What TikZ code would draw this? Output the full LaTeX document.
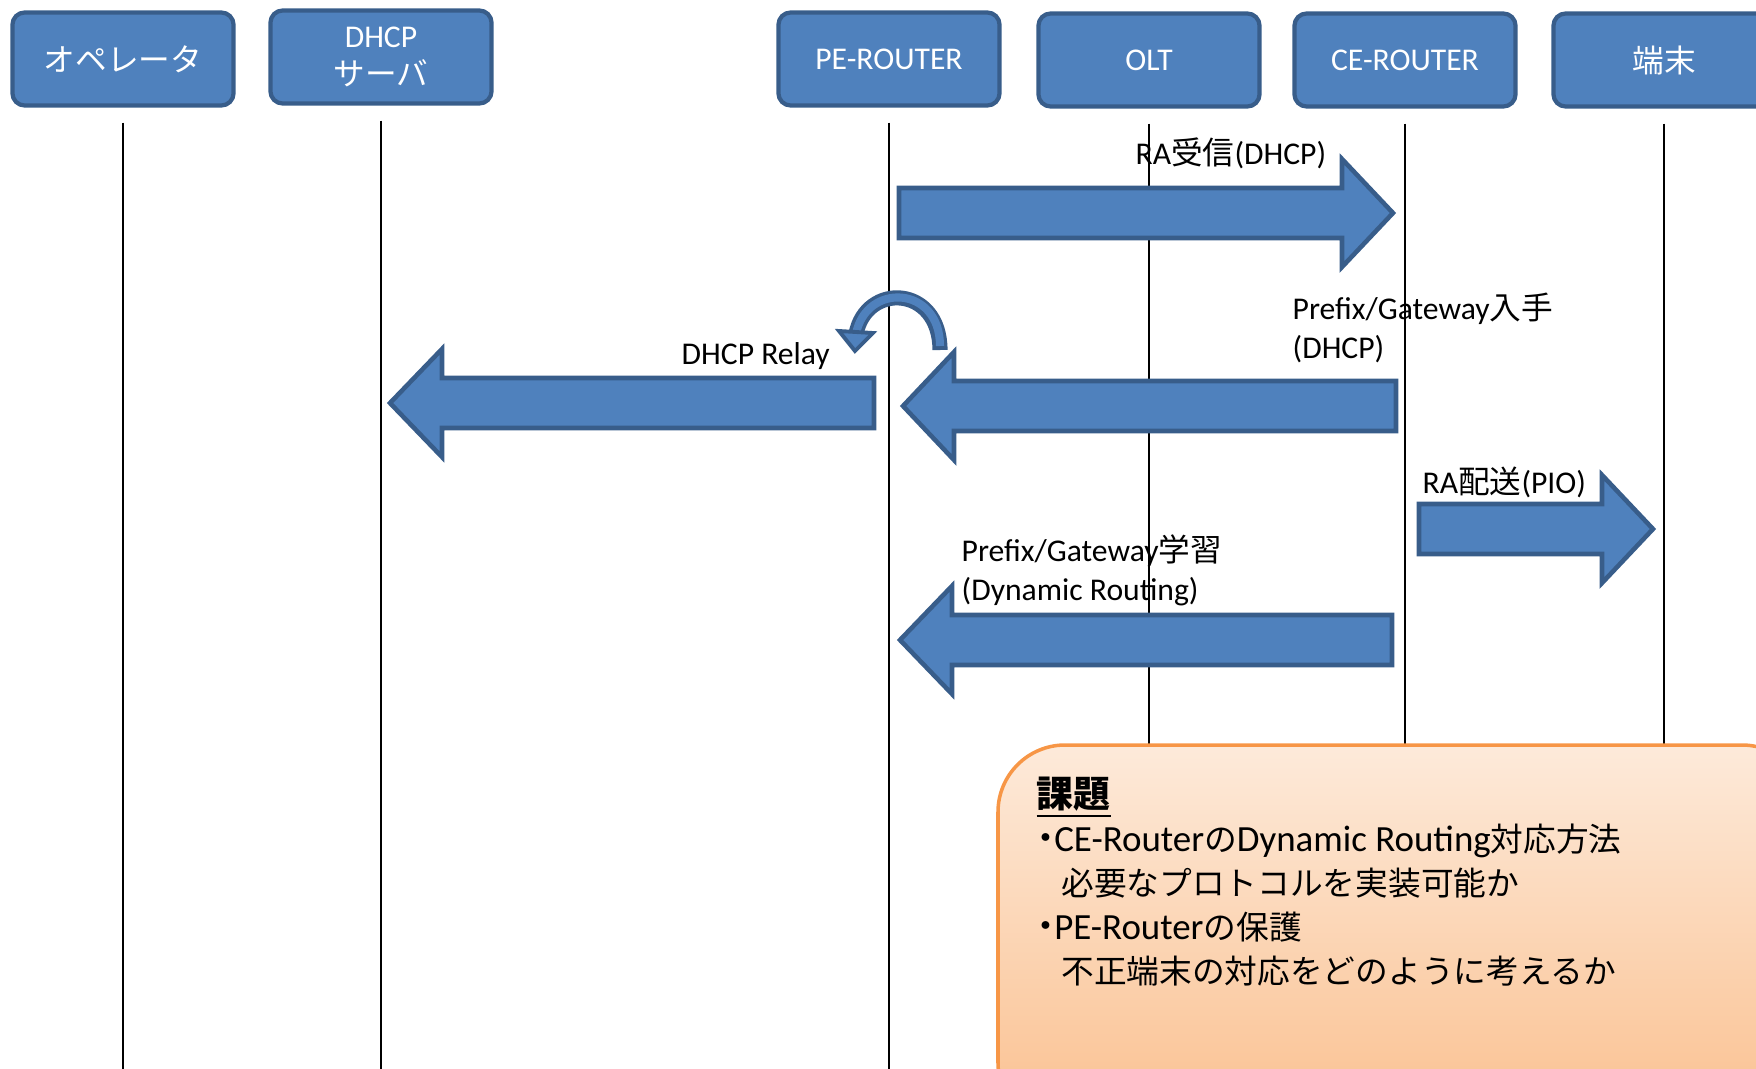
\documentclass[tikz,border=0pt]{standalone}
\usepackage{fontspec}
\setmainfont{Carlito}
\newfontfamily\jp{Noto Sans CJK JP}
\definecolor{boxblue}{HTML}{4F81BD}
\definecolor{boxedge}{HTML}{385D8A}
\definecolor{noteedge}{HTML}{F79646}
\definecolor{notetop}{HTML}{FDEADA}
\definecolor{notebottom}{HTML}{FAC08F}

\begin{document}
\begin{tikzpicture}[x=0.01cm,y=-0.01cm,font=\fontsize{9}{11}\selectfont,
  actor/.style={draw=boxedge,fill=boxblue,line width=1.2pt,rounded corners=3.5pt,
    minimum width=2.21cm,minimum height=0.93cm,text=white,align=center,inner sep=0pt},
  life/.style={line width=0.6pt},
  msg/.style={draw=boxedge,fill=boxblue,line width=1.3pt},
  lbl/.style={inner sep=0pt,anchor=west,align=left}]
% pixel grid of the slide, y running down
\useasboundingbox (0,0) rectangle (1756,1069);
\clip (0,0) rectangle (1756,1069);
\coordinate (floor) at (0,1069);
\coordinate (noteline) at (0,745);

% actors across the top
\node[actor] (ope)  at (123,59)  {\jp オペレータ};
\node[actor] (dhcp) at (381,57)  {DHCP\\{\jp サーバ}};
\node[actor] (pe)   at (889,59)  {PE-ROUTER};
\node[actor] (olt)  at (1149,60) {OLT};
\node[actor] (ce)   at (1405,60) {CE-ROUTER};
\node[actor] (term) at (1664,60) {\jp 端末};

% lifelines; the right three stop at the note
\foreach \n in {ope,dhcp,pe}{
  \draw[life] ([yshift=-0.15cm]\n.south) -- (\n.south |- floor);}
\foreach \n in {olt,ce,term}{
  \draw[life] ([yshift=-0.15cm]\n.south) -- (\n.south |- noteline);}

% block arrows: y, tail x, head base x, tip x
\newcommand{\msgarrow}[4]{%
  \draw[msg] (#2,#1-25) -- (#3,#1-25) -- (#3,#1-54) -- (#4,#1)
    -- (#3,#1+54) -- (#3,#1+25) -- (#2,#1+25) -- cycle;}

\msgarrow{213}{899}{1342}{1393}
\msgarrow{403}{874}{442}{390}
\msgarrow{406}{1396}{954}{903}
\msgarrow{529}{1419}{1602}{1653}
\msgarrow{640}{1392}{952}{900}

% u-turn at the PE-ROUTER
\draw[boxedge,line width=4.3pt] (940,350) .. controls (940,285) and (866,282) .. (856,334);
\draw[boxblue,line width=2.3pt] (940,346) .. controls (940,285) and (866,282) .. (856,334);
\draw[msg,line width=1.1pt] (839,331) -- (873,333) -- (855,351) -- cycle;

% message labels
\node[lbl] (ra)    at (1135,153) {RA{\jp 受信}(DHCP)};
\node[lbl] (relay) at (681,356)  {DHCP Relay};
\node[lbl] (pfx)   at (1292,328) {Prefix/Gateway{\jp 入手}\\(DHCP)};
\node[lbl] (pio)   at (1422,482) {RA{\jp 配送}(PIO)};
\node[lbl] (learn) at (961,570)  {Prefix/Gateway{\jp 学習}\\(Dynamic Routing)};

% the note
\newcommand{\nb}{\makebox[5pt][c]{\jp ・}}
\newcommand{\nj}[1]{{\jp\fontsize{9.3}{12.5}\selectfont #1}}
\draw[noteedge,line width=1pt,rounded corners=0.67cm,top color=notetop,
  bottom color=notebottom] (998,745) rectangle (1809,1130);
\node[anchor=north west,align=left,inner sep=0pt,
  font=\fontsize{10.5}{12.5}\selectfont] (issues) at (1036,776)
  {\underline{\jp\bfseries 課題}\\
   \nb CE-Router\nj{の}Dynamic Routing\nj{対応方法}\\
   \hspace{7pt}\nj{必要なプロトコルを実装可能か}\\
   \nb PE-Router\nj{の保護}\\
   \hspace{7pt}\nj{不正端末の対応をどのように考えるか}};
\end{tikzpicture}
\end{document}
